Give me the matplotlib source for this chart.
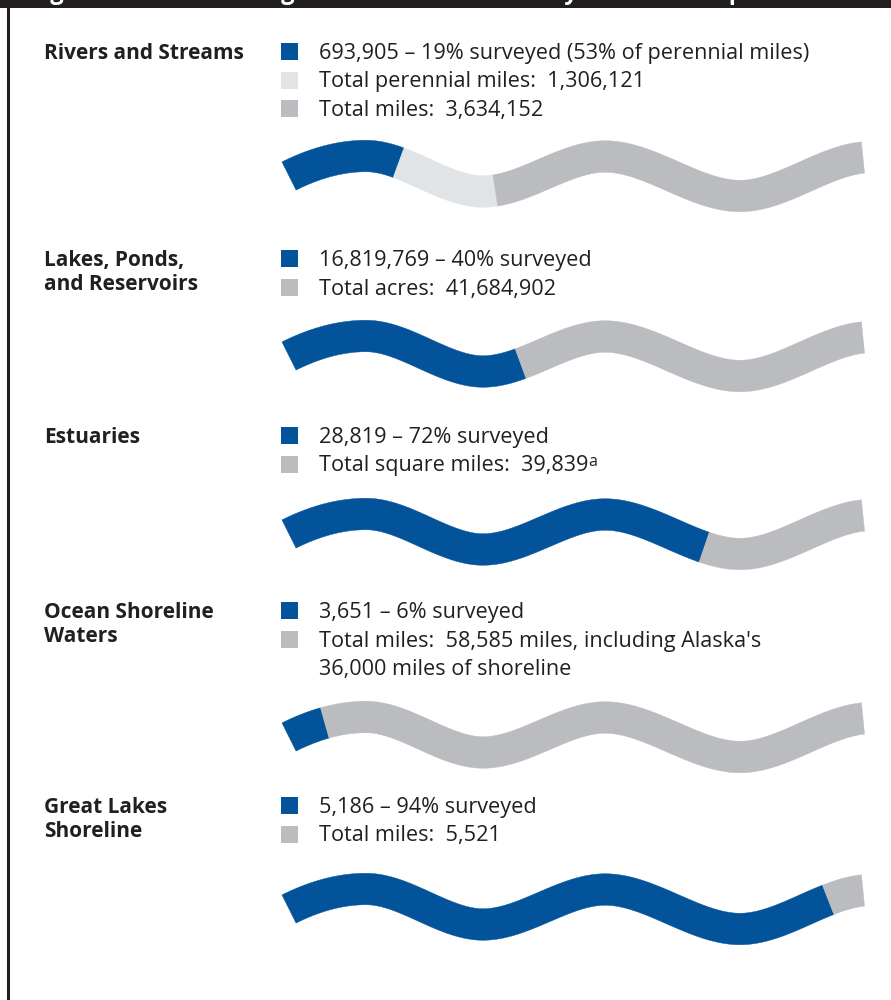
import numpy as np
import matplotlib
matplotlib.use("Agg")
import matplotlib.pyplot as plt
from matplotlib.patches import Polygon, Rectangle

# values from the chart
categories = ["Rivers and Streams", "Lakes, Ponds,\nand Reservoirs", "Estuaries",
              "Ocean Shoreline\nWaters", "Great Lakes\nShoreline"]
surveyed = [693905, 16819769, 28819, 3651, 5186]
perennial = [1306121, None, None, None, None]
totals = [3634152, 41684902, 39839, 58585, 5521]
legend_lines = [
    ["693,905 \u2013 19% surveyed (53% of perennial miles)",
     "Total perennial miles:  1,306,121",
     "Total miles:  3,634,152"],
    ["16,819,769 \u2013 40% surveyed",
     "Total acres:  41,684,902"],
    ["28,819 \u2013 72% surveyed",
     "Total square miles:  39,839"],
    ["3,651 \u2013 6% surveyed",
     "Total miles:  58,585 miles, including Alaska's\n36,000 miles of shoreline"],
    ["5,186 \u2013 94% surveyed",
     "Total miles:  5,521"],
]
footnote = "a"
title = "Figure ES-1.  Percentage of Total Waters Surveyed for the Report"

BLUE = "#03539b"
LIGHT = "#e1e4e7"
GREY = "#bbbcc0"
INK = "#231f20"

REG = ["Open Sans", "DejaVu Sans"]
BOLD_FONT = ["Open Sans", "DejaVu Sans"]

# wave centre line (first block), knots x, y, slope
wave_x = np.array([289, 366, 483, 605, 740, 863], dtype=float)
wave_y = np.array([176, 156, 191.5, 156.5, 196, 157.5])
wave_m = np.array([-0.5, 0, 0, 0, 0, -0.1])
wave_w = 31.5
block_dy = [0, 180, 358, 561, 733]
first_base = [59, 266, 443, 618, 813]
label_pitch = 24
row_pitch = 28.5


def centre(x):
    i = np.clip(np.searchsorted(wave_x, x) - 1, 0, len(wave_x) - 2)
    h = wave_x[i + 1] - wave_x[i]
    t = (x - wave_x[i]) / h
    y = ((2*t**3 - 3*t**2 + 1) * wave_y[i] + (t**3 - 2*t**2 + t) * h * wave_m[i]
         + (-2*t**3 + 3*t**2) * wave_y[i + 1] + (t**3 - t**2) * h * wave_m[i + 1])
    d = ((6*t**2 - 6*t) / h * wave_y[i] + (3*t**2 - 4*t + 1) * wave_m[i]
         + (-6*t**2 + 6*t) / h * wave_y[i + 1] + (3*t**2 - 2*t) * wave_m[i + 1])
    return y, d


def ribbon(ax, f0, f1, dy, color):
    x0 = wave_x[0] + f0 * (wave_x[-1] - wave_x[0])
    x1 = wave_x[0] + f1 * (wave_x[-1] - wave_x[0])
    xs = np.linspace(x0, x1, 300)
    ys, ds = centre(xs)
    ys = ys + dy
    n = np.sqrt(1 + ds**2)
    top = np.column_stack([xs + wave_w / 2 * ds / n, ys - wave_w / 2 / n])
    bot = np.column_stack([xs - wave_w / 2 * ds / n, ys + wave_w / 2 / n])
    ax.add_patch(Polygon(np.vstack([top, bot[::-1]]), closed=True,
                         facecolor=color, edgecolor=color, lw=0.3))


fig = plt.figure(figsize=(8.91, 10), dpi=100)
ax = fig.add_axes([0, 0, 1, 1])
ax.set_xlim(0, 891)
ax.set_ylim(1000, 0)
ax.axis("off")

# frame: dark title bar and left rule
ax.add_patch(Rectangle((0, 0), 891, 8, facecolor=INK, edgecolor="none"))
ax.plot([8, 8], [0, 1000], color=INK, lw=2.2, solid_capstyle="butt")
ax.text(30, -1, title, color="white", fontsize=17, fontweight="bold",
        family=BOLD_FONT, va="baseline", ha="left")

for k in range(len(categories)):
    base = first_base[k]
    dy = block_dy[k]
    for j, line in enumerate(categories[k].split("\n")):
        ax.text(44, base + j * label_pitch, line, fontsize=15, fontweight="bold",
                family=BOLD_FONT, color=INK, va="baseline", ha="left")

    colors = [BLUE] + ([LIGHT] if perennial[k] else []) + [GREY]
    row = 0
    for j, txt in enumerate(legend_lines[k]):
        yb = base + row * row_pitch
        ax.add_patch(Rectangle((281, yb - 16), 17, 17, facecolor=colors[j],
                               edgecolor="none"))
        for li, part in enumerate(txt.split("\n")):
            t = ax.text(319, yb + li * row_pitch, part, fontsize=15.6, family=REG,
                        color=INK, va="baseline", ha="left")
            if k == 2 and j == 1:
                ax.annotate(footnote, xy=(1, 1), xycoords=t, xytext=(-0.3, 1),
                            textcoords="offset points", fontsize=11.5, family=REG,
                            color=INK, va="top", ha="left")
        row += len(txt.split("\n"))

    # wave split by share of the total
    f_surv = surveyed[k] / totals[k]
    if perennial[k]:
        f_per = perennial[k] / totals[k]
        ribbon(ax, 0, f_surv, dy, BLUE)
        ribbon(ax, f_surv, f_per, dy, LIGHT)
        ribbon(ax, f_per, 1, dy, GREY)
    else:
        ribbon(ax, 0, f_surv, dy, BLUE)
        ribbon(ax, f_surv, 1, dy, GREY)

fig.savefig("out.png", dpi=100, facecolor="white")
